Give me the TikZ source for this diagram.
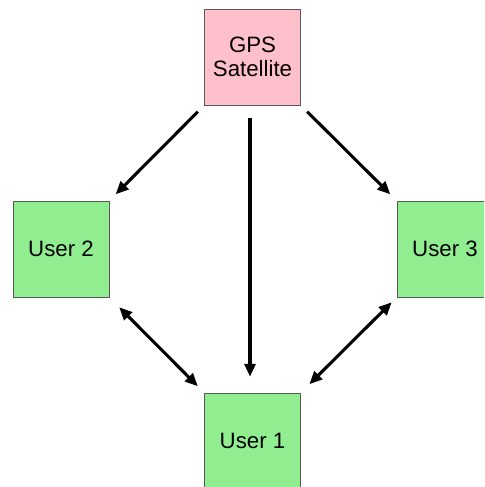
\documentclass[tikz,border=0pt]{standalone}
\usepackage{fontspec}
\setmainfont{Liberation Sans}
\usetikzlibrary{arrows.meta}
\definecolor{satpink}{RGB}{255,192,203}
\definecolor{usergreen}{RGB}{144,238,144}

\begin{document}
\begin{tikzpicture}[x=0.03cm, y=-0.03cm,
    box/.style={draw=black!65, line width=0.6pt, minimum size=96*0.03cm, inner sep=0pt,
      align=center, font=\fontsize{19}{20}\selectfont},
    link/.style={line width=2.6pt, -{Triangle[length=11pt,width=9.5pt]}, shorten <=9*0.03cm, shorten >=9*0.03cm},
    both/.style={link, {Triangle[length=11pt,width=9.5pt]}-{Triangle[length=11pt,width=9.5pt]}}]
  \useasboundingbox (0,0) rectangle (484,487);
  \clip (0,0) rectangle (484,487);
  \node[box, fill=satpink] (GPS) at (252.5,57) {GPS\\Satellite};
  \node[box, fill=usergreen] (U2) at (61,249) {User 2};
  \node[box, fill=usergreen] (U3) at (445,249) {User 3};
  \node[box, fill=usergreen] (U1) at (252.5,441) {User 1};
  \draw[link] (GPS.south west) -- (U2.north east);
  \draw[link, shorten <=13*0.03cm, shorten >=16*0.03cm] ([xshift=-2.5*0.03cm]GPS.south) -- ([xshift=-2.5*0.03cm]U1.north);
  \draw[link] (GPS.south east) -- (U3.north west);
  \draw[both, shorten <=14*0.03cm] (U2.south east) -- (U1.north west);
  \draw[both, shorten <=7*0.03cm, shorten >=12*0.03cm] (U3.south west) -- (U1.north east);
\end{tikzpicture}
\end{document}
